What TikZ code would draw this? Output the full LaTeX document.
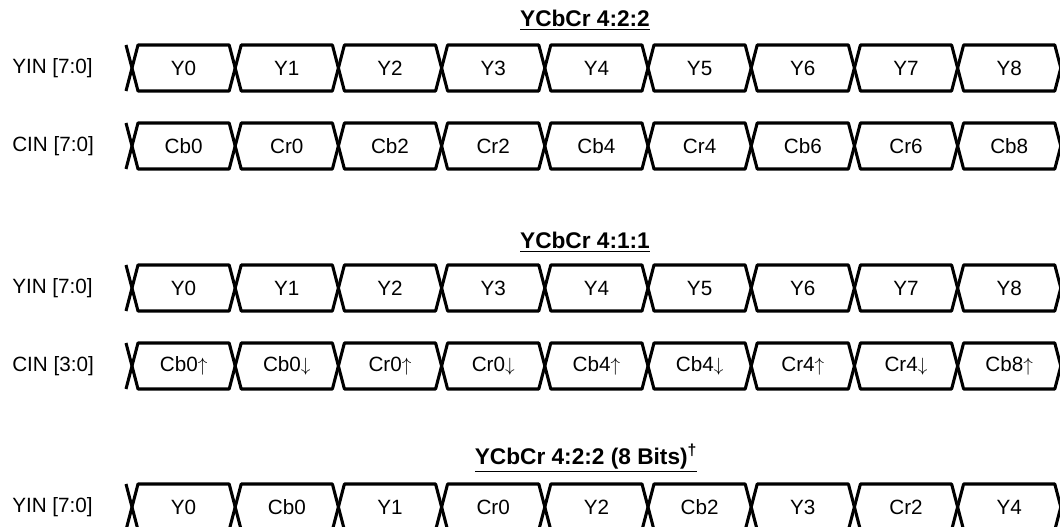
\documentclass[tikz,border=0pt]{standalone}
\usepackage{fontspec}
\setmainfont{Liberation Sans}
\usetikzlibrary{positioning}
\tikzset{
  bus/.style     = {line width=2.3pt, line join=round},
  cell/.style    = {font=\fontsize{15.5}{18}\selectfont, inner sep=0pt},
  sig/.style     = {font=\fontsize{15.5}{18}\selectfont, inner sep=0pt, anchor=west},
  heading/.style = {font=\fontsize{17}{20}\selectfont\bfseries, inner sep=0pt},
}
\newcommand\up{\ensuremath{\uparrow}}
\newcommand\dn{\ensuremath{\downarrow}}
% #1 node prefix, #2 row centre, #3 cell texts
\newcommand\busrow[3]{%
  \draw[bus] (126,#2-23) -- (132,#2) -- (126,#2+23);
  \foreach \txt [count=\k from 0] in {#3} {
    \pgfmathsetmacro\ca{132+103.2*\k}
    \pgfmathsetmacro\cb{\ca+103.2}
    \draw[bus] (\ca,#2) -- (\ca+6,#2-23) -- (\cb-6,#2-23) -- (\cb,#2)
      -- (\cb-6,#2+23) -- (\ca+6,#2+23) -- cycle;
    \node[cell] (#1\k) at ({(\ca+\cb)/2},#2) {\txt};
  }%
}

\begin{document}
\begin{tikzpicture}[x=0.75pt, y=-0.75pt]
  \useasboundingbox (0,0) rectangle (1060,527);
  \node[heading] (t422) at (585,20) {\underline{YCbCr 4:2:2}};
  \node[sig] (yina) at (12,68) {YIN [7:0]};
  \node[sig] (cina) at (12,146) {CIN [7:0]};
  \busrow{ya}{68}{Y0,Y1,Y2,Y3,Y4,Y5,Y6,Y7,Y8}
  \busrow{ca}{146}{Cb0,Cr0,Cb2,Cr2,Cb4,Cr4,Cb6,Cr6,Cb8}

  \node[heading] (t411) at (585,242) {\underline{YCbCr 4:1:1}};
  \node[sig] (yinb) at (12,288) {YIN [7:0]};
  \node[sig] (cinb) at (12,366) {CIN [3:0]};
  \busrow{yb}{288}{Y0,Y1,Y2,Y3,Y4,Y5,Y6,Y7,Y8}
  \busrow{cb}{366}{Cb0\up,Cb0\dn,Cr0\up,Cr0\dn,Cb4\up,Cb4\dn,Cr4\up,Cr4\dn,Cb8\up}

  \node[heading] (t8bit) at (586,458) {\underline{YCbCr 4:2:2 (8 Bits)\textsuperscript{†}}};
  \node[sig] (yinc) at (12,507) {YIN [7:0]};
  \busrow{yc}{507}{Y0,Cb0,Y1,Cr0,Y2,Cb2,Y3,Cr2,Y4}
\end{tikzpicture}
\end{document}
